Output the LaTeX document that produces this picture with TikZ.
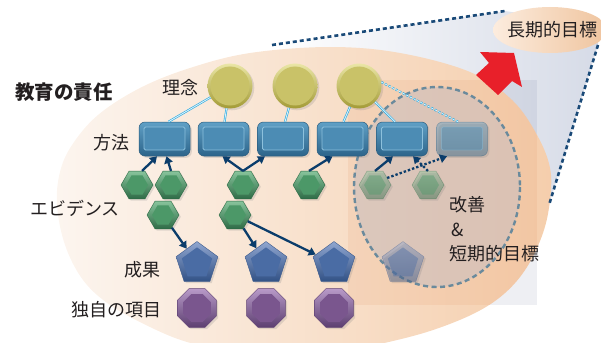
\documentclass[tikz,border=0pt]{standalone}
\usepackage{fontspec}
\newfontfamily\jp{Noto Sans CJK JP}
\usetikzlibrary{shapes.geometric,arrows.meta,shadows}
\definecolor{navy}{HTML}{0B3D6B}
\definecolor{conenavy}{HTML}{1A4A78}
\definecolor{txt}{HTML}{231F20}
\definecolor{linkblue}{HTML}{27A9E1}
\definecolor{linkpale}{HTML}{D9F1FB}
\definecolor{redarrow}{HTML}{E8202A}
\definecolor{dashgray}{HTML}{6A8A9C}
\definecolor{olivetop}{HTML}{EAE6A6}
\definecolor{olivebot}{HTML}{A39B36}
\definecolor{olivemid}{HTML}{C9C268}
\definecolor{boxtop}{RGB}{96,160,198}
\definecolor{boxbot}{RGB}{44,100,138}
\definecolor{boxedge}{RGB}{42,92,126}
\definecolor{boxhi}{RGB}{140,192,220}
\definecolor{boxin}{RGB}{76,140,180}
\definecolor{hextop}{RGB}{136,196,156}
\definecolor{hexbot}{RGB}{46,107,70}
\definecolor{hexin}{RGB}{76,152,104}
\definecolor{pentop}{RGB}{144,166,208}
\definecolor{penbot}{RGB}{50,82,134}
\definecolor{penedge}{RGB}{60,90,140}
\definecolor{penin}{RGB}{74,108,164}
\definecolor{octtop}{RGB}{184,154,200}
\definecolor{octbot}{RGB}{92,62,112}
\definecolor{octedge}{RGB}{96,66,116}
\definecolor{octin}{RGB}{122,86,142}
\definecolor{coneblue}{RGB}{214,219,231}
\definecolor{recttint}{RGB}{120,128,160}
\definecolor{rectpeach}{RGB}{226,150,100}
\definecolor{ellleft}{RGB}{252,245,239}
\definecolor{ellright}{RGB}{245,206,172}
\definecolor{goalleft}{RGB}{252,236,222}
\definecolor{goalright}{RGB}{239,196,158}
\definecolor{shortfill}{RGB}{200,190,192}
\tikzset{
  lbl/.style={font=\jp\fontsize{18}{20}\selectfont, text=txt, inner sep=0},
  shd/.style={drop shadow={opacity=0.22, shadow xshift=1.8pt, shadow yshift=-1.8pt}},
  ideal/.style={circle, minimum size=45pt, inner sep=0, shd,
    top color=olivetop, bottom color=olivebot},
  mbox/.style={rounded corners=6pt, minimum width=51pt, minimum height=34pt, inner sep=0, shd,
    top color=boxtop, bottom color=boxbot, draw=boxedge, line width=0.5pt,
    path picture={\draw[rounded corners=1.5pt, draw=boxhi, fill=boxin, line width=0.8pt]
      ([shift={(5pt,-5pt)}]path picture bounding box.north west) rectangle ([shift={(-5pt,6pt)}]path picture bounding box.south east);}},
  hexs/.style={regular polygon, regular polygon sides=6, minimum size=32pt, inner sep=0, shd,
    top color=hextop, bottom color=hexbot, draw=hexbot, line width=0.4pt,
    path picture={\node[regular polygon, regular polygon sides=6, minimum size=22pt, inner sep=0,
      fill=hexin] at (path picture bounding box.center) {};}},
  pent/.style={regular polygon, regular polygon sides=5, minimum size=44pt, inner sep=0, shd,
    top color=pentop, bottom color=penbot, draw=penedge, line width=0.4pt,
    path picture={\node[regular polygon, regular polygon sides=5, minimum size=32pt, inner sep=0,
      fill=penin] at ([yshift=-2pt]path picture bounding box.center) {};}},
  octo/.style={regular polygon, regular polygon sides=8, minimum size=42pt, inner sep=0, shd,
    top color=octtop, bottom color=octbot, draw=octedge, line width=0.4pt,
    path picture={\node[regular polygon, regular polygon sides=8, minimum size=30pt, inner sep=0,
      fill=octin] at (path picture bounding box.center) {};}},
  faded/.style={opacity=0.42},
  lnk/.style={draw=linkblue, double=linkpale, double distance=0.9pt, line width=0.6pt},
  dlnk/.style={lnk, dash pattern=on 2.4pt off 1.6pt},
  arr/.style={draw=navy, line width=2.3pt, -{Triangle[length=7pt,width=8.5pt]}},
  darr/.style={arr, dash pattern=on 2.4pt off 2pt},
  conel/.style={draw=conenavy, line width=2.6pt, dash pattern=on 4pt off 3pt},
}
\def\bigoutline{plot[smooth cycle, tension=0.6] coordinates {
  (330,47) (400,53) (470,72) (512,100) (537,135) (550,168) (550,200) (543,233) (527,267)
  (505,293) (475,313) (430,331) (380,344) (330,354) (283,357) (233,352) (187,342)
  (150,327) (110,305) (83,280) (65,245) (57,205) (60,172) (72,145) (98,115) (140,88)
  (190,68) (250,53)}}
\begin{document}
\begin{tikzpicture}[x=1pt,y=-1pt]
\useasboundingbox (0,0) rectangle (601,342);
% cone coordinates
\coordinate (kl1) at (272,45);
\coordinate (kl2) at (505,11);
\coordinate (kr1) at (598,45);
\coordinate (kr2) at (549,205);
% cone background
\shade[left color=white, right color=coneblue]
  (kl1) -- (kl2) -- (598,25) -- (kr1) -- (kr2) -- (420,140) -- cycle;
% tinted rectangle (outside part)
\fill[fill=recttint, opacity=0.13] (348,80) rectangle (537,305);
% big ellipse
\shade[left color=ellleft, right color=ellright] \bigoutline;
\begin{scope}
  \clip \bigoutline;
  \fill[fill=rectpeach, opacity=0.14] (348,80) rectangle (537,305);
\end{scope}
% cone dotted lines
\draw[conel] (kl1) -- (kl2);
\draw[conel] (kr1) -- (kr2);
% long-term goal ellipse
\node[ellipse, minimum width=114pt, minimum height=46pt, inner sep=0,
  left color=goalleft, right color=goalright] (goal) at (550,30) {};
\node[lbl] (goaltxt) at (552,30) {長期的目標};
% red arrow
\fill[redarrow] (480,52) -- (514,53) -- (522,87) -- (512,81) -- (498,95) -- (476,75) -- (489,63) -- cycle;
% dashed short-term region
\draw[draw=dashgray, line width=2.4pt, dash pattern=on 5pt off 3.5pt,
  fill=shortfill, fill opacity=0.55] (437,187) ellipse [x radius=83, y radius=100];
% circles
\node[ideal] (c1) at (230,86) {};
\node[ideal] (c2) at (295,86) {};
\node[ideal] (c3) at (359,86) {};
\foreach \c in {c1,c2,c3}{
  \fill[olivemid] (\c) circle (19.5pt);
}
% boxes
\node[mbox] (b1) at (164.5,139) {};
\node[mbox] (b2) at (223.5,139) {};
\node[mbox] (b3) at (283,139) {};
\node[mbox] (b4) at (342.5,139) {};
\node[mbox] (b5) at (402,139) {};
\node[mbox, faded] (b6) at (462,139) {};
% hexagons
\node[hexs] (h1) at (137,185) {};
\node[hexs] (h2) at (171,185) {};
\node[hexs] (h3) at (243,185) {};
\node[hexs] (h4) at (309,185) {};
\node[hexs, faded] (h5) at (375,185) {};
\node[hexs, faded] (h6) at (428,185) {};
\node[hexs] (g1) at (163,215) {};
\node[hexs] (g2) at (235,215) {};
% pentagons
\node[pent] (p1) at (197,263.5) {};
\node[pent] (p2) at (266,263.5) {};
\node[pent] (p3) at (334,263.5) {};
\node[pent, faded] (p4) at (403,263.5) {};
% octagons
\node[octo] (o1) at (197,308) {};
\node[octo] (o2) at (266,308) {};
\node[octo] (o3) at (334,308) {};
% light blue links
\draw[lnk] (c1) -- ([xshift=4pt]b1.north);
\draw[lnk] (c1) -- ([xshift=1pt]b2.north);
\draw[lnk] (c2) -- ([xshift=2pt]b3.north);
\draw[lnk] (c3) -- ([xshift=1pt]b4.north);
\draw[lnk] (c3) -- ([xshift=-7pt]b5.north);
\draw[dlnk] (c3.10) -- ([xshift=-4pt]b6.north);
% arrows
\draw[arr] (h1.70) -- ([xshift=-7.5pt]b1.south);
\draw[arr] (h2.north) -- ([xshift=2pt]b1.south);
\draw[arr] (h3.north) -- ([xshift=-1pt]b2.south);
\draw[arr] (h3.north) -- ([xshift=-18pt]b3.south);
\draw[arr] (h4.north) -- ([xshift=-10pt]b4.south);
\draw[arr] (h5.north) -- ([xshift=-9pt]b5.south);
\draw[darr] (h5.30) -- ([xshift=-15pt]b6.south);
\draw[darr] (h6.north) -- ([xshift=11pt]b5.south);
\draw[arr] (g1) -- (p1);
\draw[arr] (g2) -- (p2);
\draw[arr] (g2) -- (p3);
% labels
\node[lbl, font=\jp\fontsize{19.5}{22}\selectfont\bfseries] (resp) at (64,92) {教育の責任};
\node[lbl] (lrinen) at (180,88) {理念};
\node[lbl] (lhoho) at (111,143) {方法};
\node[lbl] (levid) at (75,208) {エビデンス};
\node[lbl] (lseika) at (142,270) {成果};
\node[lbl] (ldoku) at (116,310) {独自の項目};
\node[lbl, anchor=west] (lkai) at (449,205) {改善};
\node[lbl, anchor=west] (lamp) at (451,230) {\&};
\node[lbl, anchor=west] (ltan) at (449,254) {短期的目標};
\end{tikzpicture}
\end{document}
